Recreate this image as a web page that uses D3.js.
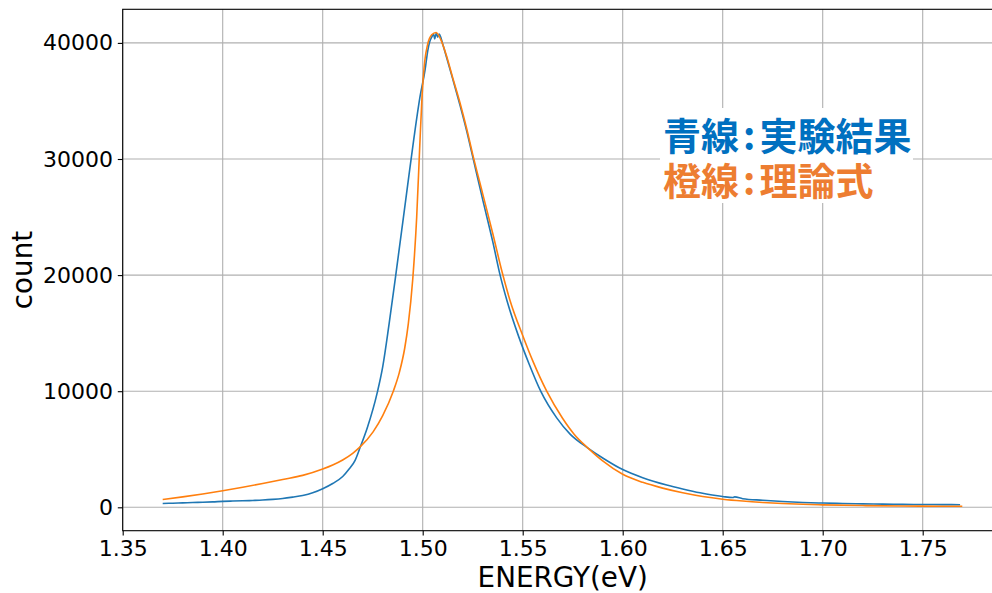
<!DOCTYPE html>
<html>
<head>
<meta charset="utf-8">
<script src="https://cdn.jsdelivr.net/npm/d3@7"></script>
<style>
  html, body { margin: 0; padding: 0; background: #fff; overflow: hidden; }
  svg { display: block; overflow: hidden; }
  .tick text { font-family: "DejaVu Sans", sans-serif; }
</style>
</head>
<body>
<svg id="chart" width="992" height="593"></svg>
<script>
// Measured spectrum (blue): photon energy in eV and detector counts
const energyMeasured = [
  1.370, 1.375, 1.380, 1.385, 1.390, 1.395, 1.400, 1.405, 1.410, 1.415,
  1.420, 1.425, 1.430, 1.435, 1.440, 1.445, 1.450, 1.455, 1.460, 1.463,
  1.4662, 1.4687, 1.4723, 1.4773, 1.4800, 1.4832, 1.4863, 1.4900, 1.4932, 1.4957,
  1.4986, 1.5012, 1.5025, 1.5035, 1.5045, 1.5055, 1.5060, 1.5068, 1.5075, 1.5083,
  1.5090, 1.5100, 1.5117, 1.5150, 1.5187, 1.5220, 1.5250, 1.5300, 1.5350, 1.5387,
  1.5423, 1.5480, 1.5533, 1.5590, 1.5670, 1.5737, 1.5828, 1.5900, 1.6000, 1.6100,
  1.6220, 1.6300, 1.6387, 1.6500, 1.6550, 1.6560, 1.6600, 1.6700, 1.6800, 1.6900,
  1.7000, 1.7100, 1.7200, 1.7300, 1.7400, 1.7500, 1.7600, 1.7687
];
const countMeasured = [
  330, 355, 385, 415, 440, 470, 515, 540, 560, 590,
  625, 680, 760, 880, 1020, 1250, 1600, 2050, 2650, 3250,
  4050, 5150, 6850, 9900, 12100, 15800, 19700, 24500, 28700, 31900,
  35300, 37700, 39300, 40100, 40500, 40750, 40350, 40850, 40500, 40770,
  40500, 39900, 38900, 36900, 34600, 32400, 30200, 26500, 22900, 20000,
  17700, 14700, 12300, 10000, 7700, 6300, 5080, 4250, 3250, 2550,
  1920, 1580, 1250, 930, 840, 900, 740, 610, 500, 420,
  365, 325, 295, 275, 255, 240, 232, 225
];

// Model curve (orange)
const energyModel = [
  1.370, 1.380, 1.390, 1.400, 1.410, 1.420, 1.430, 1.440, 1.450, 1.455,
  1.460, 1.465, 1.4687, 1.4752, 1.4800, 1.4853, 1.4883, 1.4910, 1.4928, 1.4950,
  1.4970, 1.4985, 1.4997, 1.5010, 1.5025, 1.5045, 1.5067, 1.5090, 1.5117, 1.5150,
  1.5187, 1.5220, 1.5250, 1.5300, 1.5350, 1.5398, 1.5437, 1.5500, 1.5553, 1.5620,
  1.5700, 1.5757, 1.5828, 1.5900, 1.6000, 1.6100, 1.6200, 1.6300, 1.6400, 1.6500,
  1.6600, 1.6700, 1.6800, 1.6900, 1.7000, 1.7200, 1.7400, 1.7600, 1.7698
];
const countModel = [
  670, 900, 1150, 1420, 1720, 2050, 2400, 2750, 3300, 3650,
  4080, 4650, 5200, 6500, 7900, 10000, 11600, 13700, 15800, 19600,
  25000, 31000, 35500, 38400, 39900, 40700, 40900, 40300, 39000, 37000,
  34800, 32600, 30400, 27000, 23600, 20200, 17800, 14800, 12500, 10000,
  7650, 6300, 5080, 4000, 2850, 2150, 1650, 1250, 930, 700,
  540, 420, 330, 260, 210, 150, 115, 95, 88
];

const xTicks = [1.35, 1.40, 1.45, 1.50, 1.55, 1.60, 1.65, 1.70, 1.75];
const yTicks = [0, 10000, 20000, 30000, 40000];
const legendParts = [["青線", ":", "実験結果"], ["橙線", ":", "理論式"]];

const svg = d3.select("#chart");
const plot = { left: 122.7, right: 1002.7, top: 9.3, bottom: 530.7 };

const x = d3.scaleLinear().domain([1.35, 1.79]).range([plot.left, plot.right]);
const y = d3.scaleLinear().domain([-2015, 42894]).range([plot.bottom, plot.top]);

// Grid lines
const grid = svg.append("g").attr("class", "grid");
grid.selectAll("line.vx").data(xTicks).join("line")
  .attr("x1", d => x(d)).attr("x2", d => x(d))
  .attr("y1", plot.top).attr("y2", plot.bottom)
  .attr("stroke", "#b0b0b0").attr("stroke-width", 1.1);
grid.selectAll("line.hy").data(yTicks).join("line")
  .attr("x1", plot.left).attr("x2", plot.right)
  .attr("y1", d => y(d)).attr("y2", d => y(d))
  .attr("stroke", "#b0b0b0").attr("stroke-width", 1.1);

// Curves
const line = d3.line().curve(d3.curveMonotoneX).x(d => x(d[0])).y(d => y(d[1]));
const measured = energyMeasured.map((e, i) => [e, countMeasured[i]]);
const model = energyModel.map((e, i) => [e, countModel[i]]);

svg.append("path").datum(measured)
  .attr("d", line).attr("fill", "none")
  .attr("stroke", "#1f77b4").attr("stroke-width", 1.6)
  .attr("stroke-linejoin", "round");
svg.append("path").datum(model)
  .attr("d", line).attr("fill", "none")
  .attr("stroke", "#ff7f0e").attr("stroke-width", 1.6)
  .attr("stroke-linejoin", "round");

// Axes
const xAxis = d3.axisBottom(x).tickValues(xTicks).tickFormat(d3.format(".2f"))
  .tickSizeOuter(0).tickSize(4.9).tickPadding(4.9);
const yAxis = d3.axisLeft(y).tickValues(yTicks).tickFormat(d3.format("d"))
  .tickSizeOuter(0).tickSize(4.9).tickPadding(4.9);

const gx = svg.append("g").attr("transform", `translate(0,${plot.bottom})`).call(xAxis);
const gy = svg.append("g").attr("transform", `translate(${plot.left},0)`).call(yAxis);
[gx, gy].forEach(g => {
  g.select(".domain").remove();
  g.selectAll(".tick line").attr("stroke", "#000").attr("stroke-width", 1.1);
  g.selectAll(".tick text").attr("fill", "#000").attr("font-size", 22);
});

// Spines
svg.append("rect")
  .attr("x", plot.left).attr("y", plot.top)
  .attr("width", plot.right - plot.left).attr("height", plot.bottom - plot.top)
  .attr("fill", "none").attr("stroke", "#000").attr("stroke-width", 1.1);

// Axis titles
svg.append("text")
  .attr("x", (plot.left + plot.right) / 2).attr("y", 587)
  .attr("text-anchor", "middle")
  .attr("font-family", "DejaVu Sans, sans-serif").attr("font-size", 27.8)
  .text("ENERGY(eV)");
svg.append("text")
  .attr("transform", `translate(32,${(plot.top + plot.bottom) / 2}) rotate(-90)`)
  .attr("text-anchor", "middle")
  .attr("font-family", "DejaVu Sans, sans-serif").attr("font-size", 27.8)
  .text("count");

// Legend annotation on a white panel
const note = svg.append("g");
note.append("rect")
  .attr("x", 660).attr("y", 108).attr("width", 253).attr("height", 95)
  .attr("fill", "#fff");
const noteColors = ["#0070c0", "#ed7d31"];
const noteText = note.selectAll("text").data(legendParts).join("text")
  .attr("x", 663).attr("y", (d, i) => 150 + i * 45)
  .attr("font-family", "'Noto Sans CJK JP', sans-serif")
  .attr("font-weight", "bold").attr("font-size", 38)
  .attr("fill", (d, i) => noteColors[i]);
noteText.selectAll("tspan").data(d => d).join("tspan")
  .attr("dx", (d, i) => (i === 0 ? 0 : 4))
  .text(d => d);
</script>
</body>
</html>
